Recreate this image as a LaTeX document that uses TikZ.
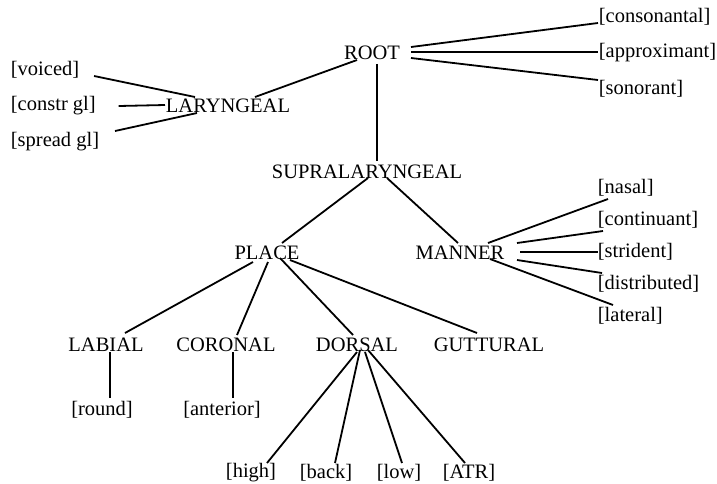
\documentclass[tikz,border=0pt]{standalone}
\usepackage{fontspec}
\setmainfont{Liberation Serif}
\begin{document}
\begin{tikzpicture}[x=1pt,y=-1pt,line width=1.8pt,
  nd/.style={font=\fontsize{20.5}{24}\selectfont,inner sep=0pt},
  ft/.style={nd,anchor=west}]
\useasboundingbox (0,0) rectangle (717,483);
\node[nd] (root) at (372,53) {ROOT};
\node[nd] (lar) at (228,106) {LARYNGEAL};
\node[ft] (voiced) at (10,70) {[voiced]};
\node[ft] (constr) at (10,106) {[constr gl]};
\node[ft] (spread) at (10,142) {[spread gl]};
\node[ft] (cons) at (598,17) {[consonantal]};
\node[ft] (approx) at (598,53) {[approximant]};
\node[ft] (sonor) at (598,89) {[sonorant]};
\node[nd] (supra) at (367,172) {SUPRALARYNGEAL};
\node[nd] (place) at (267,253) {PLACE};
\node[nd] (manner) at (460,253) {MANNER};
\node[ft] (nasal) at (597,188) {[nasal]};
\node[ft] (cont) at (597,220) {[continuant]};
\node[ft] (strid) at (597,252) {[strident]};
\node[ft] (distr) at (597,284) {[distributed]};
\node[ft] (later) at (597,316) {[lateral]};
\node[nd] (labial) at (106,345) {LABIAL};
\node[nd] (coronal) at (226,345) {CORONAL};
\node[nd] (dorsal) at (357,345) {DORSAL};
\node[nd] (gutt) at (489,345) {GUTTURAL};
\node[nd] (round) at (102,410) {[round]};
\node[nd] (anterior) at (222,410) {[anterior]};
\node[nd] (high) at (251,473) {[high]};
\node[nd] (back) at (326,473) {[back]};
\node[nd] (low) at (399,473) {[low]};
\node[nd] (atr) at (469,473) {[ATR]};
\foreach \a/\sx/\sy/\b/\tx/\ty in {
  voiced.east/14/6/lar.center/-33/-9, constr.east/22/0/lar.center/-63/-1,
  spread.east/15/-11/lar.center/-31/7, root.center/-15/7/lar.center/27/-9,
  root.center/39/-6/cons.west/0/6, root.center/39/-1/approx.west/0/-1,
  root.center/39/5/sonor.west/0/-9, root.south/5/3/supra.north/10/-3,
  supra.center/1/6/place.center/15/-10, supra.center/20/6/manner.center/-2/-10,
  manner.center/28/-10/nasal.west/11/11, manner.center/57/-10/cont.west/6/11,
  manner.center/60/-1/strid.west/1/0, manner.center/57/7/distr.west/5/-11,
  manner.center/30/6/later.west/16/-11,
  place.center/-14/9/labial.center/19/-12, place.center/1/9/coronal.center/11/-10,
  place.center/13/5/dorsal.center/-4/-10, place.center/23/7/gutt.center/-12/-12,
  labial.center/4/7/round.center/8/-12, coronal.center/7/7/anterior.center/11/-12,
  dorsal.center/0/7/high.center/16/-10, dorsal.center/3/5/back.center/9/-10,
  dorsal.center/8/7/low.center/3/-10, dorsal.center/11/5/atr.center/-4/-10}
  \draw ([shift={(\sx,\sy)}]\a) -- ([shift={(\tx,\ty)}]\b);
\end{tikzpicture}
\end{document}
